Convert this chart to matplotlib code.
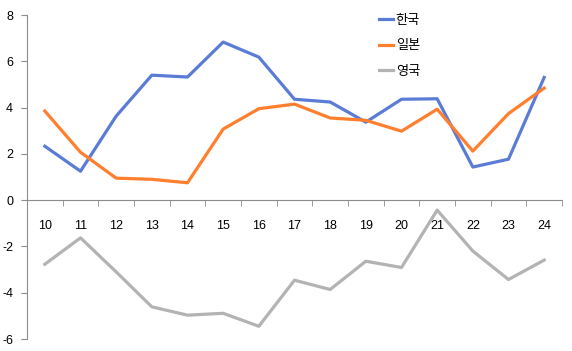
import numpy as np
import matplotlib.pyplot as plt

plt.rcParams['font.family'] = ['Noto Sans CJK KR', 'DejaVu Sans']
plt.rcParams['axes.unicode_minus'] = False

years = ['10', '11', '12', '13', '14', '15', '16', '17', '18', '19', '20', '21', '22', '23', '24']
korea = [2.33, 1.25, 3.63, 5.40, 5.32, 6.83, 6.18, 4.36, 4.24, 3.37, 4.36, 4.38, 1.43, 1.77, 5.30]
japan = [3.85, 2.07, 0.95, 0.90, 0.75, 3.07, 3.95, 4.15, 3.55, 3.45, 2.98, 3.93, 2.12, 3.74, 4.84]
uk = [-2.77, -1.63, -3.10, -4.61, -4.97, -4.89, -5.45, -3.46, -3.86, -2.64, -2.91, -0.43, -2.20, -3.43, -2.59]
labels = ['한국', '일본', '영국']

fig = plt.figure(figsize=(5.72, 3.51), dpi=100)
ax = fig.add_axes([27/572, 12/351, 535/572, 324/351])

x = np.arange(len(years))
ax.plot(x, korea, color='#5B7CD6', lw=2.3, label=labels[0])
ax.plot(x, japan, color='#FF7F2E', lw=2.3, label=labels[1])
ax.plot(x, uk, color='#B3B3B3', lw=2.3, label=labels[2])

ax.set_xlim(-0.5, len(years) - 0.5)
ax.set_ylim(-6, 8)
ax.set_yticks(np.arange(-6, 9, 2))
ax.set_xticks(x)
ax.set_xticklabels(years)
ax.set_xticks(np.arange(-0.5, len(years), 1), minor=True)

for s in ['top', 'right']:
    ax.spines[s].set_visible(False)
ax.spines['bottom'].set_position(('data', 0))
ax.spines['left'].set_color('#8C8C8C')
ax.spines['bottom'].set_color('#8C8C8C')

ax.tick_params(axis='x', which='major', length=0, pad=14, labelsize=9, colors='black')
ax.tick_params(axis='x', which='minor', length=4, direction='out', color='#8C8C8C')
ax.tick_params(axis='y', length=4, direction='out', color='#8C8C8C', labelsize=9, pad=6)
for t in ax.get_xticklabels() + ax.get_yticklabels():
    t.set_family(['Liberation Sans', 'DejaVu Sans'])

ax.legend(loc='upper left', bbox_to_anchor=(0.635, 1.04), frameon=False, handlelength=1.1,
          handletextpad=0.2, labelspacing=0.95, fontsize=9.5)

plt.savefig('out.png', dpi=100)
